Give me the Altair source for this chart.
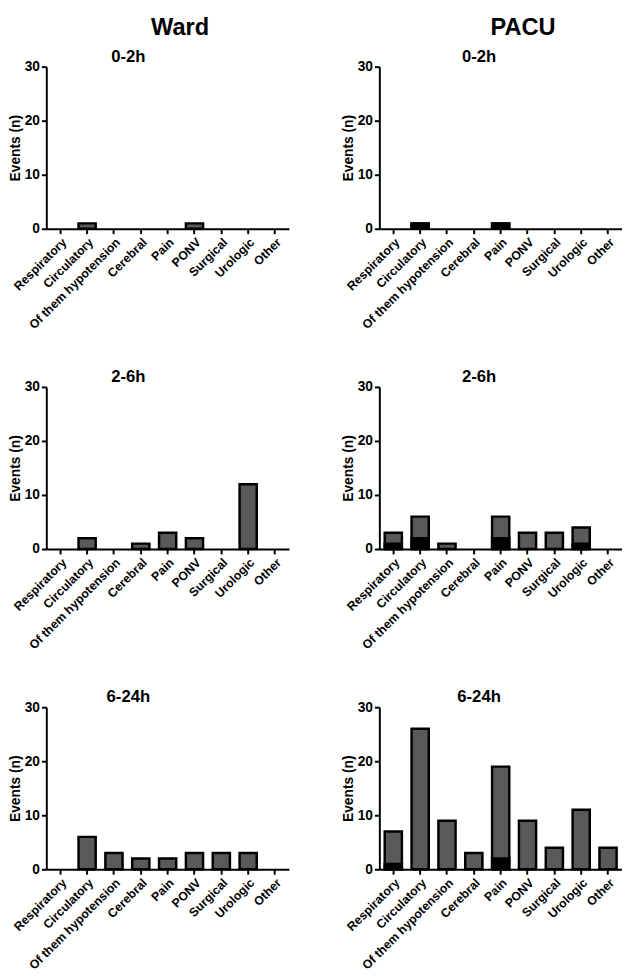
import altair as alt
import pandas as pd

categories = ["Respiratory", "Circulatory", "Of them hypotension", "Cerebral",
              "Pain", "PONV", "Surgical", "Urologic", "Other"]

group_titles = ["Ward", "PACU"]
window_titles = ["0-2h", "2-6h", "6-24h"]

# total events per category
ward_02_total = [0, 1, 0, 0, 0, 1, 0, 0, 0]
ward_26_total = [0, 2, 0, 1, 3, 2, 0, 12, 0]
ward_624_total = [0, 6, 3, 2, 2, 3, 3, 3, 0]
# black (sub-group) segment
ward_02_black = [0, 0, 0, 0, 0, 0, 0, 0, 0]
ward_26_black = [0, 0, 0, 0, 0, 0, 0, 0, 0]
ward_624_black = [0, 0, 0, 0, 0, 0, 0, 0, 0]

pacu_02_total = [0, 1, 0, 0, 1, 0, 0, 0, 0]
pacu_26_total = [3, 6, 1, 0, 6, 3, 3, 4, 0]
pacu_624_total = [7, 26, 9, 3, 19, 9, 4, 11, 4]
pacu_02_black = [0, 1, 0, 0, 1, 0, 0, 0, 0]
pacu_26_black = [1, 2, 0, 0, 2, 0, 0, 1, 0]
pacu_624_black = [1, 0, 0, 0, 2, 0, 0, 0, 0]

FONT = "Liberation Sans"
W, H = 247, 165


def panel(total, black, title, dx):
    df = pd.DataFrame({"category": categories, "total": total, "black": black})
    x = alt.X("category:N", sort=categories,
              scale=alt.Scale(domain=categories, paddingInner=0.36, paddingOuter=0.2),
              axis=alt.Axis(title=None, labelAngle=-45, labelFontSize=12.5,
                            labelPadding=2))
    yaxis = alt.Axis(values=[0, 10, 20, 30], title="Events (n)", titleFontSize=14,
                     labelFontSize=14, titlePadding=2, labelPadding=2)
    base = alt.Chart(df)
    grey = base.mark_bar(color="#595959", stroke="black", strokeWidth=2.5).encode(
        x=x,
        y=alt.Y("total:Q", scale=alt.Scale(domain=[0, 30]), axis=yaxis),
    ).transform_filter("datum.total > 0")
    blk = base.mark_bar(color="#000000", stroke="black", strokeWidth=2.5).encode(
        x=x,
        y=alt.Y("black:Q", scale=alt.Scale(domain=[0, 30]), axis=yaxis),
    ).transform_filter("datum.black > 0")
    return alt.layer(grey, blk).properties(
        width=W, height=H,
        title=alt.TitleParams(title, fontSize=17, font=FONT, fontWeight="bold",
                              anchor="middle", dx=dx, offset=-6),
    )


def column(totals, blacks, gtitle, dx_sub, dx_title):
    return alt.vconcat(
        *[panel(t, b, w, dx_sub) for t, b, w in zip(totals, blacks, window_titles)],
        spacing=37,
    ).properties(title=alt.TitleParams(gtitle, fontSize=24, font=FONT,
                                       fontWeight="bold", anchor="middle",
                                       dx=dx_title, offset=8))


ward = column([ward_02_total, ward_26_total, ward_624_total],
              [ward_02_black, ward_26_black, ward_624_black],
              group_titles[0], -40, 32)
pacu = column([pacu_02_total, pacu_26_total, pacu_624_total],
              [pacu_02_black, pacu_26_black, pacu_624_black],
              group_titles[1], -22, 42)

chart = alt.hconcat(ward, pacu, spacing=53).properties(
    padding={"left": 0, "top": 0, "right": 0, "bottom": 0}
).configure_view(stroke=None).configure_axis(
    labelFont=FONT, titleFont=FONT, labelFontWeight="bold", titleFontWeight="bold",
    labelColor="black", titleColor="black", domainColor="black", domainWidth=2,
    tickColor="black", tickWidth=2, tickSize=5, grid=False,
).configure_title(color="black")

chart.save("out.html", embed_options={"renderer": "svg", "actions": False})
